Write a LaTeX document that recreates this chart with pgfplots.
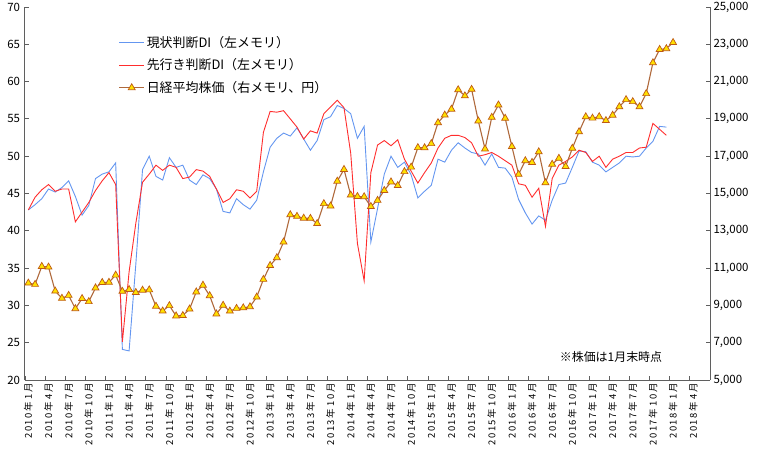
\documentclass[border=0pt]{standalone}
\usepackage{fontspec}
\setmainfont{Noto Sans CJK JP}
\newfontfamily\xtickfont[LetterSpace=18]{Noto Sans CJK JP}
\usepackage{pgfplots}
\pgfplotsset{compat=1.18}

\definecolor{diblue}{RGB}{100,150,240}
\definecolor{dired}{RGB}{255,45,45}
\definecolor{stockline}{RGB}{175,105,60}
\definecolor{stockedge}{RGB}{190,90,20}
\definecolor{stockfill}{RGB}{255,225,0}
\definecolor{axisgray}{RGB}{95,95,95}

% 景気ウォッチャー 現状判断DI / 先行き判断DI (2010/1 - 2017/12)
\pgfplotstableread{
i gen saki
0 42.8 42.8
1 43.5 44.5
2 44.3 45.5
3 45.6 46.2
4 45.2 45.3
5 45.8 45.6
6 46.7 45.6
7 44.6 41.2
8 42.1 42.5
9 43.4 43.8
10 47.0 45.4
11 47.6 46.7
12 47.9 47.8
13 49.1 46.2
14 24.1 25.1
15 23.9 34.5
16 35.5 41.0
17 48.2 46.5
18 50.0 47.6
19 47.3 48.8
20 46.8 48.1
21 49.8 48.8
22 48.5 48.5
23 48.8 47.0
24 46.8 47.2
25 46.2 48.2
26 47.5 48.0
27 47.0 47.3
28 45.6 45.6
29 42.6 43.8
30 42.4 44.3
31 44.3 45.5
32 43.5 45.3
33 42.9 44.4
34 44.1 45.3
35 47.9 53.2
36 51.2 56.0
37 52.4 55.9
38 53.1 56.1
39 52.7 55.0
40 53.8 53.9
41 52.3 52.3
42 50.8 53.4
43 52.1 53.1
44 54.9 55.7
45 55.3 56.6
46 56.8 57.5
47 56.4 56.5
48 55.7 50.4
49 52.4 38.3
50 54.0 33.3
51 38.5 47.8
52 43.0 51.5
53 47.6 52.1
54 50.0 51.4
55 48.5 52.2
56 49.2 49.6
57 47.5 48.0
58 44.4 46.4
59 45.3 47.8
60 46.1 49.1
61 49.6 51.1
62 49.2 52.4
63 50.8 52.8
64 51.8 52.8
65 51.1 52.5
66 50.5 51.8
67 50.3 50.0
68 48.8 50.2
69 50.3 50.5
70 48.5 50.0
71 48.4 49.4
72 47.2 48.8
73 44.2 46.3
74 42.4 46.1
75 40.9 44.5
76 42.0 45.7
77 41.4 40.6
78 44.1 47.0
79 46.2 48.8
80 46.4 49.3
81 48.5 49.9
82 50.7 50.8
83 50.6 50.5
84 49.2 49.3
85 48.8 50.0
86 47.9 48.5
87 48.5 49.6
88 49.1 50.0
89 50.0 50.5
90 49.9 50.5
91 50.0 51.1
92 51.1 51.2
93 52.0 54.4
94 54.0 53.6
95 53.9 52.8
}\ditable

% 日経平均株価 月末値 (2010/1 - 2018/1)
\pgfplotstableread{
i nikkei
0 10198
1 10126
2 11090
3 11057
4 9769
5 9383
6 9537
7 8824
8 9369
9 9202
10 9937
11 10229
12 10238
13 10624
14 9755
15 9850
16 9694
17 9816
18 9833
19 8955
20 8700
21 8988
22 8435
23 8455
24 8803
25 9723
26 10084
27 9521
28 8543
29 9007
30 8695
31 8840
32 8870
33 8928
34 9446
35 10395
36 11139
37 11559
38 12398
39 13861
40 13775
41 13677
42 13668
43 13389
44 14456
45 14328
46 15662
47 16291
48 14915
49 14841
50 14828
51 14304
52 14632
53 15162
54 15621
55 15425
56 16174
57 16414
58 17460
59 17451
60 17674
61 18798
62 19207
63 19520
64 20563
65 20236
66 20585
67 18890
68 17388
69 19083
70 19747
71 19034
72 17518
73 16027
74 16759
75 16666
76 17235
77 15576
78 16569
79 16887
80 16450
81 17425
82 18308
83 19114
84 19041
85 19119
86 18909
87 19197
88 19651
89 20033
90 19925
91 19646
92 20356
93 22012
94 22725
95 22765
96 23098
}\stocktable

\pgfplotsset{
  common/.style={
    scale only axis, width=685bp, height=373bp,
    at={(25bp,74bp)}, anchor=south west,
    xmin=-0.5, xmax=101.5,
    axis line style={axisgray, line width=1bp},
    tick style={axisgray, line width=0.8bp},
    tick align=inside, major tick length=4bp,
    /pgf/number format/assume math mode=true,
    yticklabel style={font=\fontsize{11.5}{13}\selectfont},
    legend image code/.code={%
      \draw[mark repeat=2,mark phase=2,##1] plot coordinates {(0bp,0bp) (12.5bp,0bp) (25bp,0bp)};},
  },
}

\begin{document}
\begin{tikzpicture}
\path[use as bounding box] (0,0) rectangle (760bp,454bp);

\begin{axis}[common,
  axis x line*=bottom, axis y line*=left,
  ymin=20, ymax=70, ytick={20,25,...,70},
  yticklabel style={xshift=-1.5bp},
  xtick={-0.5,2.5,...,101.5},
  xticklabels={2010年1月,2010年4月,2010年7月,2010年10月,
    2011年1月,2011年4月,2011年7月,2011年10月,
    2012年1月,2012年4月,2012年7月,2012年10月,
    2013年1月,2013年4月,2013年7月,2013年10月,
    2014年1月,2014年4月,2014年7月,2014年10月,
    2015年1月,2015年4月,2015年7月,2015年10月,
    2016年1月,2016年4月,2016年7月,2016年10月,
    2017年1月,2017年4月,2017年7月,2017年10月,
    2018年1月,2018年4月,{}},
  xticklabel style={xshift=3.36bp, rotate=90, anchor=east,
    font=\xtickfont\fontsize{9.5}{11}\selectfont},
]
\addplot[diblue, line width=0.9bp, no marks] table[x=i, y=gen] {\ditable};
\addplot[dired, line width=0.9bp, no marks] table[x=i, y=saki] {\ditable};
\end{axis}

\begin{axis}[common,
  axis x line=none, axis y line*=right,
  ymin=5000, ymax=25000, ytick={5000,7000,...,25000},
  scaled y ticks=false,
  yticklabel style={/pgf/number format/.cd, 1000 sep={,}},
  legend style={at={(0.135,0.93)}, anchor=north west, draw=none, fill=none,
    font=\fontsize{13}{15}\selectfont, row sep=6bp, inner sep=1bp},
  legend cell align=left,
]
\addlegendimage{diblue, line width=0.9bp}
\addlegendentry{現状判断DI（左メモリ）}
\addlegendimage{dired, line width=0.9bp}
\addlegendentry{先行き判断DI（左メモリ）}
\addplot[stockline, line width=1.1bp, mark=triangle*, mark size=4bp,
  mark options={draw=stockedge, fill=stockfill, line width=0.7bp}]
  table[x=i, y=nikkei] {\stocktable};
\addlegendentry{日経平均株価（右メモリ、円）}
\end{axis}

\node[font=\fontsize{12}{14}\selectfont] at (611bp,97bp) {※株価は1月末時点};
\end{tikzpicture}
\end{document}
